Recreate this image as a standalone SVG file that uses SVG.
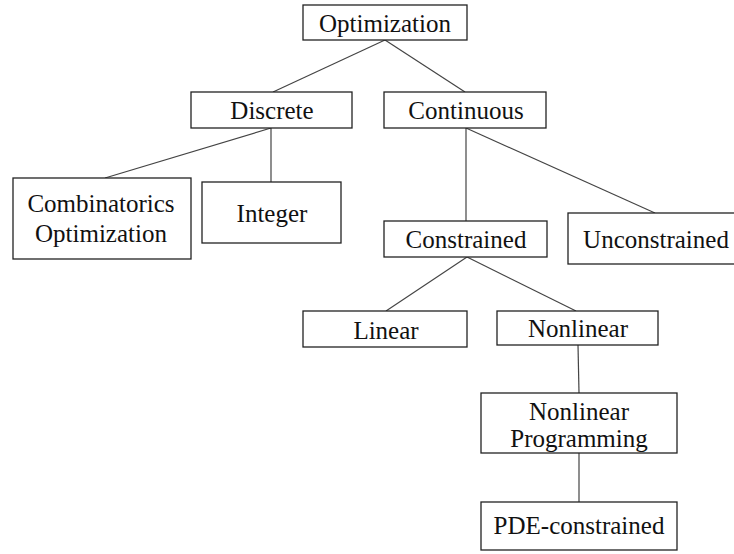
<svg xmlns="http://www.w3.org/2000/svg" width="734" height="554" viewBox="0 0 734 554">
<style>
rect{fill:#fff;stroke:#222;stroke-width:1.3}
text{font-family:"Liberation Serif","Times New Roman",serif;font-size:25px;fill:#111;text-anchor:middle}
#connectors line{stroke:#444;stroke-width:1.2}
</style>
<rect x="0" y="0" width="734" height="554" style="stroke:none;fill:#fff"/>
<g id="connectors">
<line x1="385" y1="40" x2="273" y2="92"/>
<line x1="385" y1="40" x2="465" y2="92"/>
<line x1="271" y1="128" x2="105" y2="178"/>
<line x1="271" y1="128" x2="271" y2="182"/>
<line x1="466" y1="128" x2="466" y2="221"/>
<line x1="466" y1="128" x2="655" y2="213"/>
<line x1="467" y1="257" x2="386" y2="311"/>
<line x1="467" y1="257" x2="576" y2="311"/>
<line x1="578" y1="345" x2="579" y2="393"/>
<line x1="579" y1="453" x2="579" y2="502"/>
</g>
<g id="n-optimization"><rect x="303" y="5" width="164" height="35"/><text x="385" y="32">Optimization</text></g>
<g id="n-discrete"><rect x="191" y="92" width="161" height="36"/><text x="272" y="119">Discrete</text></g>
<g id="n-continuous"><rect x="384" y="92" width="162" height="36"/><text x="466" y="119">Continuous</text></g>
<g id="n-combinatorics"><rect x="13" y="178" width="178" height="81"/><text x="101" y="212">Combinatorics</text><text x="101" y="242">Optimization</text></g>
<g id="n-integer"><rect x="202" y="182" width="139" height="61"/><text x="272" y="222">Integer</text></g>
<g id="n-constrained"><rect x="384" y="221" width="163" height="36"/><text x="466" y="248">Constrained</text></g>
<g id="n-unconstrained"><rect x="568" y="213" width="180" height="51"/><text x="656" y="248">Unconstrained</text></g>
<g id="n-linear"><rect x="303" y="311" width="164" height="36"/><text x="386" y="339">Linear</text></g>
<g id="n-nonlinear"><rect x="497" y="311" width="161" height="34"/><text x="578" y="337">Nonlinear</text></g>
<g id="n-nlp"><rect x="481" y="393" width="196" height="60"/><text x="579" y="420">Nonlinear</text><text x="579" y="447">Programming</text></g>
<g id="n-pde"><rect x="481" y="502" width="196" height="48"/><text x="579" y="534">PDE-constrained</text></g>
</svg>
